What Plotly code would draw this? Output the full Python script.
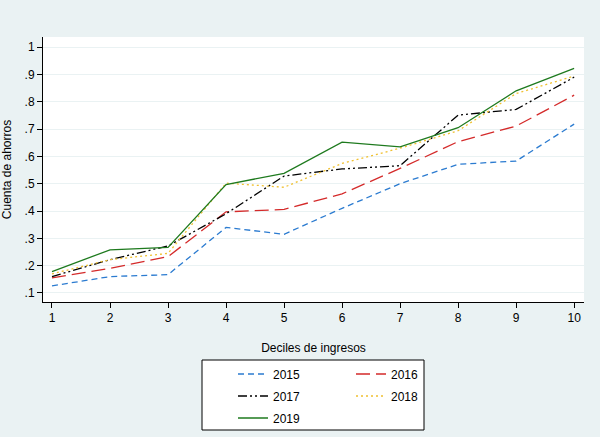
import plotly.graph_objects as go

deciles = [1, 2, 3, 4, 5, 6, 7, 8, 9, 10]
y2015 = [0.126, 0.160, 0.167, 0.340, 0.315, 0.410, 0.500, 0.571, 0.583, 0.718]
y2016 = [0.155, 0.190, 0.233, 0.397, 0.406, 0.463, 0.556, 0.654, 0.711, 0.824]
y2017 = [0.160, 0.222, 0.272, 0.390, 0.528, 0.554, 0.566, 0.751, 0.772, 0.890]
y2018 = [0.170, 0.222, 0.245, 0.502, 0.487, 0.574, 0.630, 0.694, 0.830, 0.894]
y2019 = [0.178, 0.258, 0.267, 0.497, 0.538, 0.652, 0.635, 0.705, 0.840, 0.922]

ytick_vals = [0.1, 0.2, 0.3, 0.4, 0.5, 0.6, 0.7, 0.8, 0.9, 1.0]
ytick_text = [".1", ".2", ".3", ".4", ".5", ".6", ".7", ".8", ".9", "1"]

series = [
    ("2015", y2015, "#2b7bd0", "6px,4px", "legend"),
    ("2016", y2016, "#d42a2a", "14px,6px", "legend"),
    ("2017", y2017, "#000000", "9px,3px,2px,3px,2px,3px", "legend2"),
    ("2018", y2018, "#f0c030", "2px,3px", "legend2"),
    ("2019", y2019, "#1e7a1e", "solid", "legend3"),
]

fig = go.Figure()
for name, vals, color, dash, lg in series:
    fig.add_trace(go.Scatter(
        x=deciles, y=vals, mode="lines", name=name,
        line=dict(color=color, width=1.3, dash=dash),
        legend=lg,
    ))

bg = "#eaf2f3"
font = dict(family="Liberation Sans, Arial, sans-serif", size=12, color="#000000")

W, H = 600, 437
# plot area: left 43, right 584, top 37, bottom 302
L, R, T, B = 43, 16, 37, 135

def cx(p):
    return p / W

def cy(p):
    return 1 - p / H

leg_common = dict(orientation="h", xanchor="left", yanchor="middle",
                  xref="container", yref="container",
                  bgcolor="rgba(0,0,0,0)", borderwidth=0,
                  font=dict(size=12, family=font["family"], color="#000"),
                  entrywidth=73, entrywidthmode="pixels",
                  tracegroupgap=0, itemwidth=30)

fig.update_layout(
    width=W, height=H,
    margin=dict(l=L, r=R, t=T, b=B, autoexpand=False),
    paper_bgcolor=bg, plot_bgcolor="#ffffff",
    font=font,
    legend=dict(x=cx(233), y=cy(374), **leg_common),
    legend2=dict(x=cx(233), y=cy(396), **leg_common),
    legend3=dict(x=cx(233), y=cy(418), **leg_common),
    shapes=[dict(type="rect", xref="paper", yref="paper",
                 x0=(202 - L) / (W - L - R), x1=(424 - L) / (W - L - R),
                 y0=(H - B - 430) / (H - T - B), y1=(H - B - 360) / (H - T - B),
                 line=dict(color="#000000", width=1), fillcolor="#ffffff",
                 layer="below")],
)

fig.update_xaxes(
    range=[0.845, 10.17], tickvals=deciles, ticks="outside", ticklen=5,
    tickcolor="#000", showgrid=False, zeroline=False, automargin=False,
    showline=True, linecolor="#000", linewidth=1,
    title=dict(text="Deciles de ingresos", standoff=19, font=dict(size=12)),
    tickfont=dict(size=12),
)
fig.update_yaxes(
    range=[0.067, 1.037], tickvals=ytick_vals, ticktext=ytick_text,
    ticks="outside", ticklen=5, tickcolor="#000", automargin=False,
    showgrid=True, gridcolor=bg, gridwidth=1, zeroline=False,
    showline=True, linecolor="#000", linewidth=1,
    title=dict(text="Cuenta de ahorros", standoff=10, font=dict(size=12)),
    tickfont=dict(size=12),
)

fig.write_html("out.html",
               config={"displayModeBar": False},
               post_script="document.body.style.margin='0';document.body.style.background='%s';" % bg)
